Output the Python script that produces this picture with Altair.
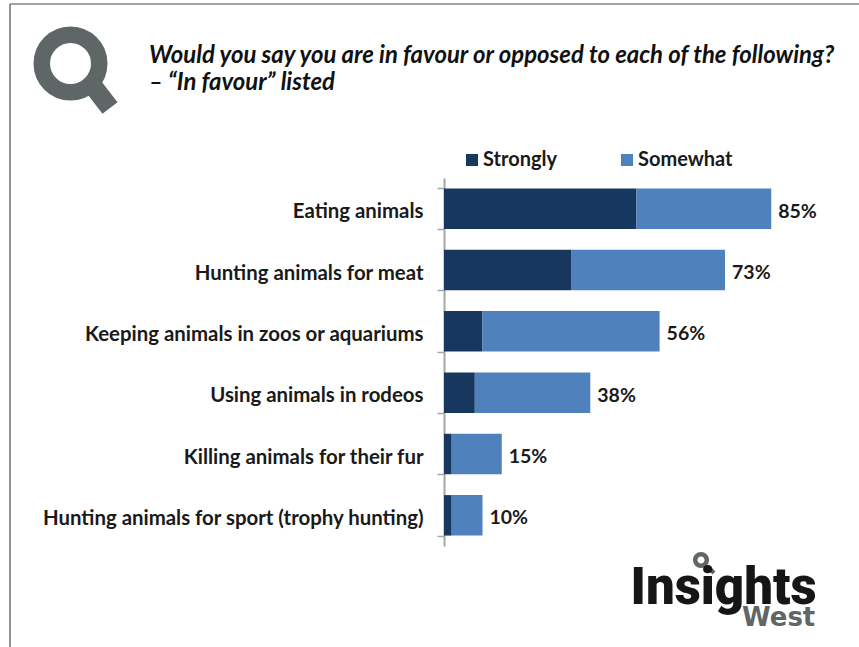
import altair as alt
import pandas as pd

# Survey results, in percent
activities = [
    "Eating animals",
    "Hunting animals for meat",
    "Keeping animals in zoos or aquariums",
    "Using animals in rodeos",
    "Killing animals for their fur",
    "Hunting animals for sport (trophy hunting)",
]
strongly = [50, 33, 10, 8, 2, 2]
somewhat = [35, 40, 46, 30, 13, 8]
totals = [85, 73, 56, 38, 15, 10]
levels = ["Strongly", "Somewhat"]
level_colors = ["#17375E", "#4F81BD"]

question_lines = [
    "Would you say you are in favour or opposed to each of the following?",
    "– “In favour” listed",
]
GREY = "#5F6766"
BODY_FONT = "Lato"

# Plot area placed inside the page through the padding
LEFT, TOP, PLOT_W, PLOT_H = 444, 178, 414, 368

rows = pd.DataFrame(
    [
        {"activity": a, "level": lvl, "share": v, "rank": i}
        for lvl, values, i in ((levels[0], strongly, 0), (levels[1], somewhat, 1))
        for a, v in zip(activities, values)
    ]
)
total_rows = pd.DataFrame({"activity": activities, "total": totals, "label": [f"{t}%" for t in totals]})

y_scale = alt.Scale(domain=activities, paddingInner=0.34, paddingOuter=0.17)
x_scale = alt.Scale(domain=[0, PLOT_W / 3.85], nice=False)

bars = (
    alt.Chart(rows)
    .mark_bar()
    .encode(
        y=alt.Y(
            "activity:N",
            scale=y_scale,
            sort=None,
            title=None,
            axis=alt.Axis(
                tickBand="extent",
                tickSize=7,
                tickWidth=1.5,
                tickColor="#A6A6A6",
                domainColor="#A6A6A6",
                domainWidth=2,
                labelFont=BODY_FONT,
                labelFontSize=20.4,
                labelFontWeight="bold",
                labelColor="#1A1A1A",
                labelPadding=14,
                labelLimit=420,
                labelOffset=3,
            ),
        ),
        x=alt.X("share:Q", stack="zero", scale=x_scale, axis=None),
        color=alt.Color(
            "level:N",
            scale=alt.Scale(domain=levels, range=level_colors),
            legend=alt.Legend(
                orient="none",
                legendX=18,
                legendY=-28,
                direction="horizontal",
                title=None,
                symbolType="square",
                symbolSize=144,
                symbolStrokeWidth=0,
                labelFont=BODY_FONT,
                labelFontSize=20,
                labelFontWeight="bold",
                labelColor="#1A1A1A",
                labelOffset=1,
                columnPadding=60,
            ),
        ),
        order=alt.Order("rank:Q"),
    )
)

total_labels = (
    alt.Chart(total_rows)
    .mark_text(align="left", dx=7, dy=3, font=BODY_FONT, fontSize=19.5, fontWeight="bold", color="#1A1A1A")
    .encode(
        y=alt.Y("activity:N", scale=y_scale, sort=None),
        x=alt.X("total:Q", scale=x_scale),
        text="label:N",
    )
)


def text_at(content, px, py, **style):
    """A piece of text at a page position given in pixels."""
    return (
        alt.Chart(pd.DataFrame({"t": [content]}))
        .mark_text(align="left", baseline="alphabetic", **style)
        .encode(x=alt.value(px - LEFT), y=alt.value(py - TOP), text="t:N")
    )


def rule_at(x1, y1, x2, y2, color, width):
    """A straight line between two page positions given in pixels."""
    return (
        alt.Chart(pd.DataFrame({"v": [0]}))
        .mark_rule(color=color, strokeWidth=width)
        .encode(
            x=alt.value(x1 - LEFT),
            x2=alt.value(x2 - LEFT),
            y=alt.value(y1 - TOP),
            y2=alt.value(y2 - TOP),
        )
    )


def ring_at(px, py, size, width, color):
    """A hollow circle at a page position, used for the magnifier glass."""
    return (
        alt.Chart(pd.DataFrame({"v": [0]}))
        .mark_point(shape="circle", filled=False, size=size, strokeWidth=width, color=color, opacity=1)
        .encode(x=alt.value(px - LEFT), y=alt.value(py - TOP))
    )


# Slide frame
frame = [
    rule_at(10, 4, 859, 4, "#4A4A4A", 1.2),
    rule_at(10, 4, 10, 647, "#4A4A4A", 1.2),
]

# Question heading
heading_style = dict(font=BODY_FONT, fontSize=23.9, fontWeight="bold", fontStyle="italic", color="#111111")
heading = [
    text_at(question_lines[0], 149, 63, **heading_style),
    text_at(question_lines[1], 149, 90, **heading_style),
]

# Large magnifier beside the heading
magnifier = [
    rule_at(93, 86, 110, 108, GREY, 19),
    ring_at(70.5, 63.5, 3300, 16.5, GREY),
]

# Brand mark in the lower right corner
brand = [
    rule_at(707, 566, 714, 573, GREY, 4),
    ring_at(701, 560, 135, 4.5, GREY),
    text_at("Insights", 630.5, 604, font="Roboto", fontSize=51, fontWeight=900, color="#161616"),
    text_at("West", 742, 626, font="DejaVu Sans", fontSize=26, fontWeight="bold", color=GREY),
]

chart = (
    alt.layer(*frame, *heading, *magnifier, *brand, bars, total_labels)
    .properties(
        width=PLOT_W,
        height=PLOT_H,
        padding={"left": LEFT, "top": TOP, "right": 859 - LEFT - PLOT_W, "bottom": 647 - TOP - PLOT_H},
        autosize=alt.AutoSizeParams(type="none"),
        background="white",
    )
    .configure_view(stroke=None)
)

chart.save("out.html", embed_options={"renderer": "svg", "actions": False})
